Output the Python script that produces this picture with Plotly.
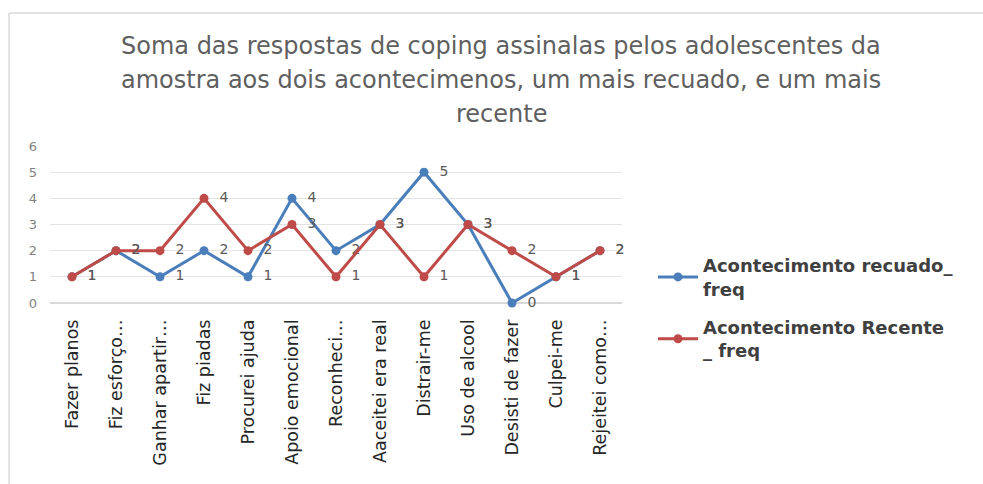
import plotly.graph_objects as go

categories = [
    "Fazer planos", "Fiz esforço…", "Ganhar apartir…", "Fiz piadas",
    "Procurei ajuda", "Apoio emocional", "Reconheci…", "Aaceitei era real",
    "Distrair-me", "Uso de alcool", "Desisti de fazer", "Culpei-me",
    "Rejeitei como…",
]
recuado = [1, 2, 1, 2, 1, 4, 2, 3, 5, 3, 0, 1, 2]
recente = [1, 2, 2, 4, 2, 3, 1, 3, 1, 3, 2, 1, 2]
y_ticks = [0, 1, 2, 3, 4, 5, 6]

title_lines = [
    "Soma das respostas de coping assinalas pelos adolescentes da",
    "amostra aos dois acontecimenos, um mais recuado, e um mais",
    "recente",
]

BLUE = "#4a7ebb"
RED = "#be4b48"
FONT = "DejaVu Sans"

W, H = 983, 484
L, R, T, B = 50, 361, 146, 181
pw, ph = W - L - R, H - T - B


def px_x(x):
    return (x - L) / pw


def px_y(y):
    return (H - B - y) / ph


fig = go.Figure()
for name, vals, color, grp in [
    ("Acontecimento recuado_<br>freq", recuado, BLUE, "a"),
    ("Acontecimento Recente<br>_ freq", recente, RED, "b"),
]:
    fig.add_trace(go.Scatter(
        x=categories, y=vals, name=name, legendgroup=grp,
        mode="lines+markers+text",
        line=dict(color=color, width=3),
        marker=dict(color=color, size=9),
        text=["  " + str(v) for v in vals],
        textposition="middle right",
        textfont=dict(family=FONT, size=14, color="#595959"),
        cliponaxis=False,
    ))

for i, line in enumerate(title_lines):
    fig.add_annotation(
        text=line, xref="paper", yref="paper",
        x=px_x(501), y=px_y(46 + 34 * i),
        xanchor="center", yanchor="middle", showarrow=False,
        font=dict(family=FONT, size=24, color="#5f5f5f"),
    )

# chart frame (left and top edges)
fig.add_shape(type="line", xref="paper", yref="paper",
              x0=px_x(9), x1=px_x(9), y0=px_y(13), y1=px_y(490),
              line=dict(color="#d9d9d9", width=1.5))
fig.add_shape(type="line", xref="paper", yref="paper",
              x0=px_x(9), x1=px_x(990), y0=px_y(13), y1=px_y(13),
              line=dict(color="#d9d9d9", width=1.5))

fig.update_layout(
    width=W, height=H,
    margin=dict(l=L, r=R, t=T, b=B, autoexpand=False),
    paper_bgcolor="white", plot_bgcolor="white",
    showlegend=True,
    legend=dict(
        x=px_x(653), y=px_y(247), xanchor="left", yanchor="top",
        font=dict(family=FONT, size=18, color="#404040", weight="bold"),
        itemwidth=40, tracegroupgap=12,
        bgcolor="rgba(0,0,0,0)",
    ),
    xaxis=dict(
        type="category", range=[-0.5, 12.5], automargin=False,
        tickangle=-90, showgrid=False, showline=False, zeroline=False,
        ticks="", tickfont=dict(family=FONT, size=17.5, color="#262626"),
        ticklabelstandoff=12,
    ),
    yaxis=dict(
        range=[0, 6], tickvals=y_ticks, showgrid=True, gridcolor="#e3e3e3",
        automargin=False,
        zeroline=True, zerolinecolor="#d9d9d9", showline=False, ticks="",
        tickfont=dict(family=FONT, size=13, color="#7f7f7f"),
        ticklabelstandoff=12,
    ),
)

fig.write_html("out.html")
